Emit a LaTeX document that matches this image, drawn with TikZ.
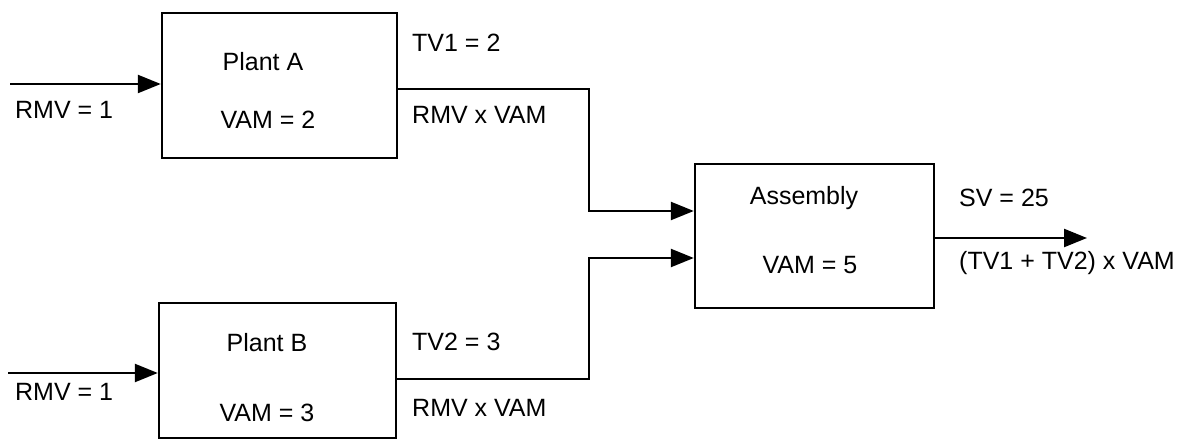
\documentclass[tikz,border=0pt]{standalone}
\usepackage{fontspec}
\setmainfont{Liberation Sans}
\usepackage{tikz}
\usetikzlibrary{positioning,arrows.meta}

\begin{document}
\begin{tikzpicture}[
        x=1pt, y=-1pt,
        block/.style = {draw, line width=2.4pt, inner sep=0pt},
        txt/.style   = {inner sep=0pt, font=\fontsize{25}{29}\selectfont},
        flow/.style  = {line width=2.4pt, -{Triangle[length=23pt,width=18pt]}},
    ]
        \useasboundingbox (0,0) rectangle (1195,446);
        % boxes
        \node[block, minimum width=235pt, minimum height=145pt] (plantA)   at (279.5,85.5) {};
        \node[block, minimum width=237pt, minimum height=135pt] (plantB)   at (277.5,370.5) {};
        \node[block, minimum width=239pt, minimum height=144pt] (assembly) at (814.5,236) {};
        \node[txt] (plantAname) at (263,62)  {Plant A};
        \node[txt] (plantAvam)  at (268,120) {VAM = 2};
        \node[txt] (plantBname) at (267,343) {Plant B};
        \node[txt] (plantBvam)  at (267,413) {VAM = 3};
        \node[txt] (asmname)    at (804,198) {Assembly};
        \node[txt] (asmvam)     at (810,265) {VAM = 5};
        % free ends and bends
        \coordinate (inA)  at (10,84);
        \coordinate (inB)  at (8,373);
        \coordinate (outA) at (397,89);
        \coordinate (outB) at (396,379);
        \coordinate (jA)   at (589,211);
        \coordinate (jB)   at (589,258);
        \coordinate (sv)   at (1087,238);
        % connectors
        \draw[flow] (inA) -- (inA -| plantA.west);
        \draw[flow] (inB) -- (inB -| plantB.west);
        \draw[flow] (outA) -| (jA) -- (jA -| assembly.west);
        \draw[flow] (outB) -| (jB) -- (jB -| assembly.west);
        \draw[flow] (sv -| assembly.east) -- (sv);
        % labels
        \node[txt, anchor=west] (rmvA)  at (15,110)  {RMV = 1};
        \node[txt, anchor=west] (rmvB)  at (15,392)  {RMV = 1};
        \node[txt, anchor=west] (tvA)   at (412,43)  {TV1 = 2};
        \node[txt, anchor=west] (prodA) at (412,115) {RMV x VAM};
        \node[txt, anchor=west] (tvB)   at (412,342) {TV2 = 3};
        \node[txt, anchor=west] (prodB) at (412,408) {RMV x VAM};
        \node[txt, anchor=west] (svlab) at (959,198) {SV = 25};
        \node[txt, anchor=west] (svfor) at (959,263) {(TV1 + TV2) x VAM};
    \end{tikzpicture}
\end{document}
